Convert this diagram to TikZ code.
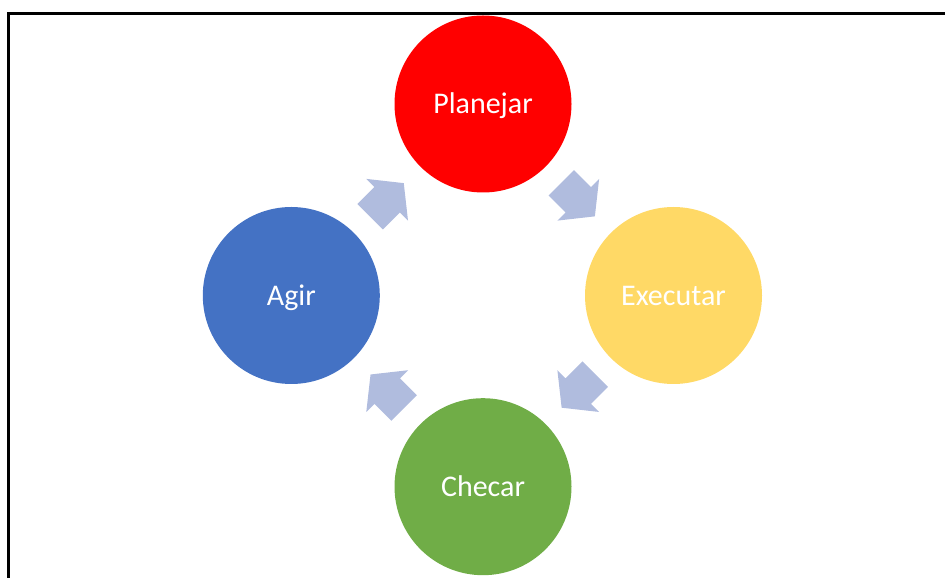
\documentclass[tikz,border=0pt]{standalone}
\usepackage{fontspec}
\setmainfont{Carlito}
\usetikzlibrary{calc}
\definecolor{cRed}{RGB}{255,0,0}
\definecolor{cYellow}{RGB}{255,217,102}
\definecolor{cGreen}{RGB}{112,173,71}
\definecolor{cBlue}{RGB}{68,114,196}
\definecolor{cArrow}{RGB}{176,188,222}
\tikzset{
  stage/.style={circle, minimum size=177pt, inner sep=0pt, text=white,
    font=\fontsize{30}{36}\selectfont, text height=19.3pt, text depth=0pt},
  pics/cyclearrow/.style={code={
    \fill[cArrow] (-24,-18) -- (0,-18) -- (0,-29.5) -- (23.5,0) -- (0,29.5) -- (0,18) -- (-24,18) -- cycle;
  }}
}
\begin{document}
\begin{tikzpicture}[x=1pt,y=1pt]
\useasboundingbox (0,0) rectangle (945,578);
\draw[line width=3pt, line join=miter] (8.5,0) -- (8.5,564.5) -- (945,564.5);
\node[stage, fill=cRed]    (plan) at (483,474)   {Planejar};
\node[stage, fill=cYellow] (exec) at (673.5,282.5) {Executar};
\node[stage, fill=cGreen]  (chec) at (483,91.3)  {Checar};
\node[stage, fill=cBlue]   (agir) at (291.3,282.5) {Agir};
\pic[rotate=45]   at ($(agir.center)!0.5!(plan.center)$) {cyclearrow};
\pic[rotate=-45]  at ($(plan.center)!0.5!(exec.center)$) {cyclearrow};
\pic[rotate=-135] at ($(exec.center)!0.5!(chec.center)$) {cyclearrow};
\pic[rotate=135]  at ($(chec.center)!0.5!(agir.center)$) {cyclearrow};
\end{tikzpicture}
\end{document}
